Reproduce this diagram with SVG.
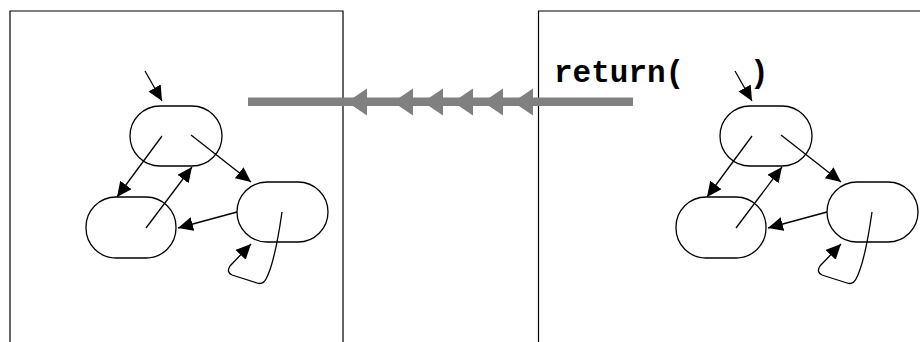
<svg xmlns="http://www.w3.org/2000/svg" width="920" height="342" viewBox="0 0 920 342">
<style>
.frame{fill:none;stroke:#000;stroke-width:1.2}
.node{fill:#fff;stroke:#000;stroke-width:1.3}
.edge{fill:none;stroke:#000;stroke-width:1.3;marker-end:url(#ah)}
.big{fill:#808080}
.code{font-family:"Liberation Mono","Courier New",monospace;font-weight:bold;font-size:31px;fill:#000;white-space:pre}
</style>
<defs>
<marker id="ah" markerUnits="userSpaceOnUse" markerWidth="16" markerHeight="15" refX="15" refY="7" orient="auto">
<path d="M0,0 L15,7 L0,14 z" fill="#000"/>
</marker>
</defs>
<rect x="0" y="0" width="920" height="342" fill="#fff"/>
<g id="frames">
<path class="frame" d="M10,350 V11 H343 V350"/>
<path class="frame" d="M538.5,350 V11 H930"/>
</g>
<g id="left-graph">
<g id="L-top"><rect class="node" x="130" y="106" width="92" height="60" rx="30"/></g>
<g id="L-bl"><rect class="node" x="86" y="197" width="90" height="61" rx="30"/></g>
<g id="L-right"><rect class="node" x="237" y="182" width="91" height="60" rx="30"/></g>
</g>
<g id="right-graph" transform="translate(590,0)">
<g id="R-top"><rect class="node" x="130" y="106" width="92" height="60" rx="30"/></g>
<g id="R-bl"><rect class="node" x="86" y="197" width="90" height="61" rx="30"/></g>
<g id="R-right"><rect class="node" x="237" y="182" width="91" height="60" rx="30"/></g>
</g>
<g id="connectors">
<g id="L-edges">
<path class="edge" d="M145,71 L162,101"/>
<path class="edge" d="M162,136 L117,197"/>
<path class="edge" d="M146,228 L192,167"/>
<path class="edge" d="M191,135 L251,182"/>
<path class="edge" d="M237,212 L178,228"/>
<path class="edge" d="M282,212 C278,240 272,268 266,279 Q263,285 257,283 L232,275 Q226,272 230,266 L251,244"/>
</g>
<g id="R-edges" transform="translate(590,0)">
<path class="edge" d="M145,71 L162,101"/>
<path class="edge" d="M162,136 L117,197"/>
<path class="edge" d="M146,228 L192,167"/>
<path class="edge" d="M191,135 L251,182"/>
<path class="edge" d="M237,212 L178,228"/>
<path class="edge" d="M282,212 C278,240 272,268 266,279 Q263,285 257,283 L232,275 Q226,272 230,266 L251,244"/>
</g>
<g id="return-arrow">
<rect class="big" x="248" y="97.5" width="385" height="8.5"/>
<polygon class="big" points="347,102 367,88.5 367,115.5"/>
<polygon class="big" points="393,102 413,88.5 413,115.5"/>
<polygon class="big" points="423,102 443,88.5 443,115.5"/>
<polygon class="big" points="453,102 473,88.5 473,115.5"/>
<polygon class="big" points="483,102 503,88.5 503,115.5"/>
<polygon class="big" points="513,102 533,88.5 533,115.5"/>
</g>
</g>
<text class="code" x="554" y="82" xml:space="preserve">return(   <tspan dx="10">)</tspan></text>
</svg>
